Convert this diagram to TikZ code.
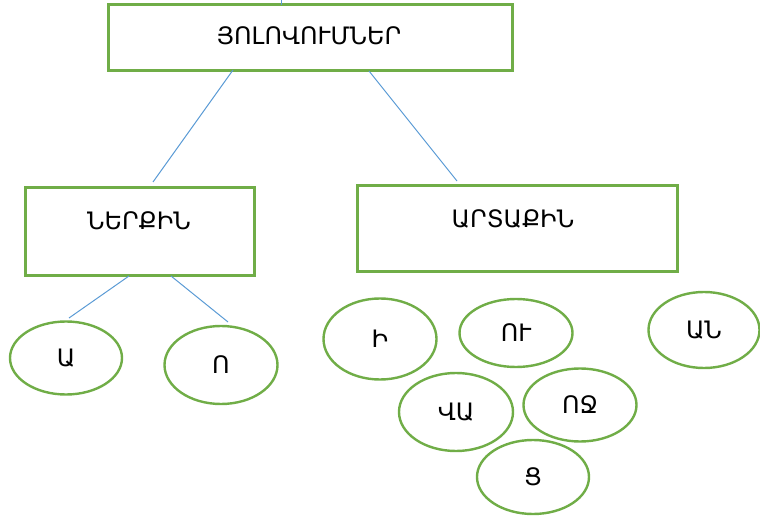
\documentclass[tikz,border=0pt]{standalone}
\usepackage{fontspec}
\newfontfamily\armfont{DejaVu Sans}
\usetikzlibrary{shapes.geometric}
\definecolor{boxgreen}{HTML}{70AD47}
\definecolor{lineblue}{HTML}{5B9BD5}
\tikzset{
  box/.style={draw=boxgreen, line width=3pt, fill=white, rectangle, inner sep=0pt},
  oval/.style={draw=boxgreen, line width=2.4pt, ellipse, inner sep=0pt, font=\armfont\fontsize{24}{28}\selectfont},
  lbl/.style={font=\armfont\fontsize{24}{28}\selectfont, inner sep=0pt},
  conn/.style={draw=lineblue, line width=1pt}
}
\begin{document}
\begin{tikzpicture}[x=1pt,y=-1pt]
\useasboundingbox (0,0) rectangle (760,518);
% boxes
\node[box, minimum width=404pt, minimum height=66pt] (top) at (310,38) {};
\node[lbl] (toptxt) at (309,36) {ՅՈԼՈՎՈՒՄՆԵՐ};
\node[box, minimum width=229pt, minimum height=88pt] (ner) at (139.5,232) {};
\node[lbl] (nertxt) at (139,221) {ՆԵՐՔԻՆ};
\node[box, minimum width=320pt, minimum height=86pt] (art) at (517,229) {};
\node[lbl] (arttxt) at (513,219) {ԱՐՏԱՔԻՆ};
% ellipses
\node[oval, minimum width=112pt, minimum height=73pt] (a) at (66,358) {Ա};
\node[oval, minimum width=113pt, minimum height=78pt] (o) at (221,365) {Ո};
\node[oval, minimum width=113pt, minimum height=81pt] (i) at (380,339) {Ի};
\node[oval, minimum width=113pt, minimum height=68pt] (u) at (516,333) {ՈՒ};
\node[oval, minimum width=111pt, minimum height=76pt] (an) at (704,330) {ԱՆ};
\node[oval, minimum width=114pt, minimum height=78pt] (va) at (456,412) {ՎԱ};
\node[oval, minimum width=113pt, minimum height=73pt] (oj) at (580,405) {ՈՋ};
\node[oval, minimum width=112pt, minimum height=74pt] (ts) at (533,477) {Ց};
% connector end points
\coordinate (stubtop) at (281,0);
\coordinate (stubbot) at (281,5);
\coordinate (t1) at (233,70);
\coordinate (n1) at (153,182);
\coordinate (t2) at (369,71);
\coordinate (r1) at (457,181);
\coordinate (n2) at (129,276);
\coordinate (a1) at (69,318);
\coordinate (n3) at (171,276);
\coordinate (o1) at (228,322);
% connectors
\draw[conn] (stubtop) -- (stubbot);
\draw[conn] (t1) -- (n1);
\draw[conn] (t2) -- (r1);
\draw[conn] (n2) -- (a1);
\draw[conn] (n3) -- (o1);
\end{tikzpicture}
\end{document}
